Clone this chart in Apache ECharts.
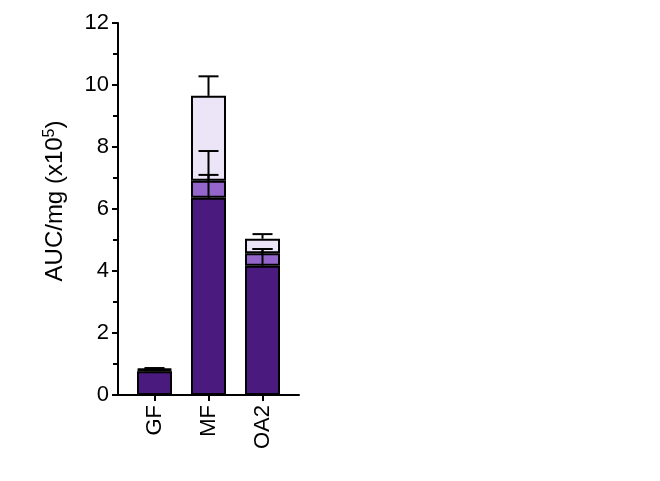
<!DOCTYPE html>
<html>
<head>
<meta charset="utf-8">
<script src="https://cdn.jsdelivr.net/npm/echarts@6/dist/echarts.min.js"></script>
<style>html,body{margin:0;padding:0;background:#fff}#c{width:660px;height:481px}</style>
</head>
<body>
<div id="c"></div>
<script>
const categories = ['GF', 'MF', 'OA2'];
const darkValues = [0.77, 6.36, 4.17];
const midValues = [0.04, 0.55, 0.40];
const lightValues = [0.04, 2.74, 0.47];
const darkErr = [0.03, 0.74, 0.54];
const midErr = [0.02, 0.96, 0.14];
const lightErr = [0.02, 0.63, 0.15];

const chart = echarts.init(document.getElementById('c'), null, {renderer: 'canvas'});
const FONT = 'Liberation Sans, Arial, sans-serif';

const darkTop = darkValues.slice();
const midTop = darkValues.map((d, i) => d + midValues[i]);
const lightTop = midTop.map((m, i) => m + lightValues[i]);

function errData(tops, errs) { return tops.map((t, i) => [i, t, t + errs[i]]); }

function errSeries(tops, errs) {
  return {
    type: 'custom',
    xAxisIndex: 1,
    yAxisIndex: 1,
    z: 5,
    data: errData(tops, errs),
    encode: {x: 0, y: [1, 2]},
    renderItem: function (params, api) {
      const x = api.value(0);
      const p0 = api.coord([x, api.value(1)]);
      const p1 = api.coord([x, api.value(2)]);
      const hw = 10;
      const style = {stroke: '#000', lineWidth: 2};
      return {
        type: 'group',
        children: [
          {type: 'line', shape: {x1: p0[0], y1: p0[1], x2: p1[0], y2: p1[1]}, style: style},
          {type: 'line', shape: {x1: p1[0] - hw, y1: p1[1], x2: p1[0] + hw, y2: p1[1]}, style: style}
        ]
      };
    }
  };
}

function barSeries(vals, color) {
  return {
    type: 'bar',
    stack: 's',
    barWidth: 35,
    xAxisIndex: 1,
    yAxisIndex: 1,
    data: vals,
    itemStyle: {color: color, borderColor: '#000', borderWidth: 2},
    z: 2
  };
}

chart.setOption({
  animation: false,
  grid: [
    {left: 118, top: 23, width: 181, height: 372, containLabel: false},
    {left: 127.5, top: 23, width: 162, height: 372, containLabel: false}
  ],
  xAxis: [
    {
      type: 'value', gridIndex: 0, min: 0, max: 1,
      splitLine: {show: false},
      axisLine: {show: true, onZero: false, lineStyle: {color: '#000', width: 2}},
      axisTick: {show: false},
      axisLabel: {show: false}
    },
    {
      type: 'category', gridIndex: 1, data: categories,
      axisLine: {show: false},
      axisTick: {show: true, alignWithLabel: true, length: 6, lineStyle: {color: '#000', width: 2}},
      axisLabel: {
        rotate: 90, margin: 10, color: '#000', fontSize: 22, fontFamily: FONT
      }
    }
  ],
  yAxis: [
    {
      type: 'value', gridIndex: 0,
      min: 0, max: 12, interval: 2,
      splitLine: {show: false},
      axisLine: {show: true, lineStyle: {color: '#000', width: 2}},
      axisTick: {show: true, length: 6, lineStyle: {color: '#000', width: 2}},
      minorTick: {show: true, splitNumber: 2, length: 5, lineStyle: {color: '#000', width: 2}},
      axisLabel: {color: '#000', fontSize: 22, fontFamily: FONT, margin: 9},
      name: 'AUC/mg (x10{s|5})',
      nameLocation: 'middle',
      nameGap: 50,
      nameTextStyle: {
        color: '#000', fontSize: 24, fontFamily: FONT,
        padding: [0, 0, 0, 16],
        rich: {s: {fontSize: 16, verticalAlign: 'top', color: '#000', fontFamily: FONT, padding: [0, 0, 10, 0]}}
      }
    },
    {
      type: 'value', gridIndex: 1,
      min: 0, max: 12, interval: 2,
      show: false
    }
  ],
  series: [
    barSeries(darkValues, '#4a1a7e'),
    barSeries(midValues, '#9466cc'),
    barSeries(lightValues, '#ece5f7'),
    errSeries(darkTop, darkErr),
    errSeries(midTop, midErr),
    errSeries(lightTop, lightErr)
  ]
});
</script>
</body>
</html>
